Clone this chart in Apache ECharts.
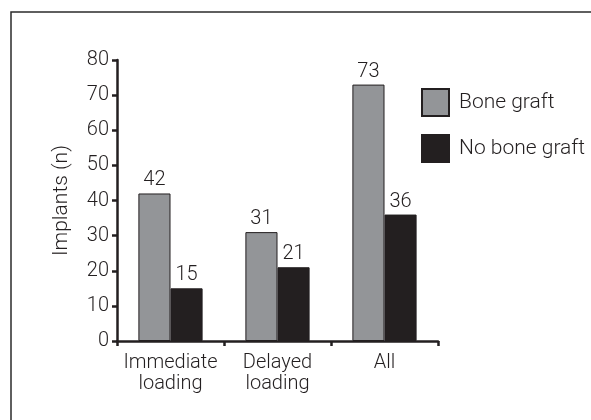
<!DOCTYPE html>
<html>
<head>
<meta charset="utf-8">
<script src="https://cdn.jsdelivr.net/npm/echarts@6/dist/echarts.min.js"></script>
<style>
  html, body { margin: 0; padding: 0; background: #fff; }
  #chart { width: 591px; height: 420px; }
</style>
</head>
<body>
<div id="chart"></div>
<script>
// data
var categories = ['Immediate\nloading', 'Delayed\nloading', 'All'];
var boneGraft = [42, 31, 73];
var noBoneGraft = [15, 21, 36];
var seriesNames = ['Bone graft', 'No bone graft'];
var yTicks = { min: 0, max: 80, interval: 10 };

var ink = '#231f20';
var font = 'Roboto';
var fw = 300; // light face, like the original
var fs = 20;

var myChart = echarts.init(document.getElementById('chart'));
myChart.setOption({
  animation: false,
  textStyle: { fontFamily: font, fontWeight: fw, color: ink },
  // frame around the figure
  graphic: [{
    type: 'rect',
    shape: { x: 11, y: 12, width: 700, height: 500 },
    style: { fill: 'none', stroke: '#2b2b2b', lineWidth: 1.5 },
    silent: true
  }],
  grid: { left: 117, right: 153, top: 60, bottom: 79 },
  legend: {
    orient: 'vertical',
    left: 416,
    top: 83,
    itemWidth: 27,
    itemHeight: 27,
    itemGap: 17,
    icon: 'rect',
    data: seriesNames,
    textStyle: { fontFamily: font, fontWeight: fw, fontSize: 21, color: ink, padding: [0, 0, 0, 5] }
  },
  xAxis: {
    type: 'category',
    data: categories,
    axisLine: { lineStyle: { color: ink, width: 2.5 } },
    axisTick: { show: true, length: 5, lineStyle: { color: ink, width: 2.5 } },
    axisLabel: { interval: 0, fontFamily: font, fontWeight: fw, fontSize: fs, color: ink, lineHeight: 21, margin: 11 }
  },
  yAxis: {
    type: 'value',
    min: yTicks.min,
    max: yTicks.max,
    interval: yTicks.interval,
    name: 'Implants (n)',
    nameLocation: 'middle',
    nameGap: 45,
    nameTextStyle: { fontFamily: font, fontWeight: fw, fontSize: 21, color: ink },
    splitLine: { show: false },
    axisLine: { show: true, lineStyle: { color: ink, width: 2.5 } },
    axisTick: { show: true, length: 5, lineStyle: { color: ink, width: 2.5 } },
    axisLabel: { fontFamily: font, fontWeight: fw, fontSize: fs, color: ink, margin: 8 }
  },
  series: [{
    name: seriesNames[0],
    type: 'bar',
    data: boneGraft,
    barGap: '0%',
    barCategoryGap: '40%',
    itemStyle: { color: '#939598', borderColor: ink, borderWidth: 1 },
    label: { show: true, position: 'top', distance: 3, fontFamily: font, fontWeight: fw, fontSize: fs, color: ink }
  }, {
    name: seriesNames[1],
    type: 'bar',
    data: noBoneGraft,
    itemStyle: { color: ink, borderColor: ink, borderWidth: 1 },
    label: { show: true, position: 'top', distance: 3, fontFamily: font, fontWeight: fw, fontSize: fs, color: ink }
  }]
});
</script>
</body>
</html>
